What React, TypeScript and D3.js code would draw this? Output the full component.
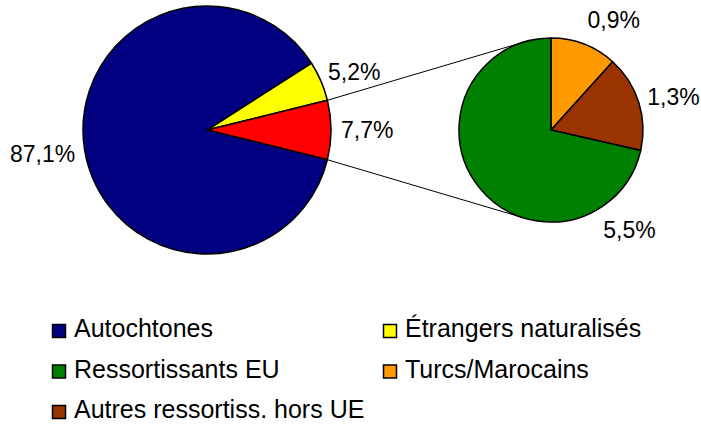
import React from "react";
import * as d3 from "d3";

const mainCategories = ["Étrangers naturalisés", "Autres", "Autochtones"];
const mainValues = [5.2, 7.7, 87.1];
const mainColors = ["#FFFF00", "#FF0000", "#000080"];

const subCategories = ["Turcs/Marocains", "Autres ressortiss. hors UE", "Ressortissants EU"];
const subValues = [0.9, 1.3, 5.5];
const subColors = ["#FF9900", "#993300", "#008000"];

const legendItems = [
  "Autochtones",
  "Étrangers naturalisés",
  "Ressortissants EU",
  "Turcs/Marocains",
  "Autres ressortiss. hors UE",
];
const legendColors = ["#000080", "#FFFF00", "#008000", "#FF9900", "#993300"];

const W = 701;
const H = 426;
const FONT = "'Liberation Sans', Arial, sans-serif";
const LABEL_FS = 23;

const fmt = (v: number) => v.toFixed(1).replace(".", ",") + "%";
const textWidth = (s: string) =>
  d3.sum(s.split(""), (ch) => (ch === "," ? 0.278 : ch === "%" ? 0.889 : 0.556)) * LABEL_FS;

export default function App() {
  const mc = { x: 207, y: 130, r: 124 };
  const sc = { x: 551, y: 130, r: 92 };

  const total = d3.sum(mainValues);
  const otherIdx = 1;
  const before = d3.sum(mainValues.slice(0, otherIdx));
  const startAngle =
    Math.PI / 2 - (mainValues[otherIdx] / total) * Math.PI - (before / total) * 2 * Math.PI;

  const mainPie = d3
    .pie<number>()
    .sort(null)
    .startAngle(startAngle)
    .endAngle(startAngle + 2 * Math.PI)(mainValues);
  const subPie = d3.pie<number>().sort(null)(subValues);

  const mainArc = d3.arc<d3.PieArcDatum<number>>().innerRadius(0).outerRadius(mc.r);
  const subArc = d3.arc<d3.PieArcDatum<number>>().innerRadius(0).outerRadius(sc.r);

  const other = mainPie[otherIdx];
  const edgePt = (a: number) => [mc.x + mc.r * Math.sin(a), mc.y - mc.r * Math.cos(a)];
  const tangent = (p: number[], upper: boolean) => {
    const dx = sc.x - p[0];
    const dy = sc.y - p[1];
    const d = Math.hypot(dx, dy);
    const base = Math.atan2(dy, dx);
    const alpha = Math.asin(sc.r / d);
    const dir = upper ? base - alpha : base + alpha;
    const len = Math.sqrt(d * d - sc.r * sc.r);
    return [p[0] + len * Math.cos(dir), p[1] + len * Math.sin(dir)];
  };
  const p1 = edgePt(other.startAngle);
  const p2 = edgePt(other.endAngle);
  const t1 = tangent(p1, true);
  const t2 = tangent(p2, false);

  const deg = Math.PI / 180;
  const subLabelR = sc.r + 35;
  const subLabelAngles = [29.6 * deg, 74.7 * deg, 141.8 * deg];

  const mainLabelPos = (a: number, s: string) => {
    const ux = Math.sin(a);
    const uy = -Math.cos(a);
    const R = mc.r + 10;
    const w = textWidth(s);
    const h = 26;
    return [mc.x + R * ux + (w / 2) * ux, mc.y + R * uy + (h / 2) * uy];
  };

  return (
    <svg
      width={W}
      height={H}
      style={{ position: "absolute", left: 0, top: 0, background: "#fff" }}
      fontFamily={FONT}
    >
      <rect x={0} y={0} width={W} height={H} fill="#fff" />
      <line x1={p1[0]} y1={p1[1]} x2={t1[0]} y2={t1[1]} stroke="#000" strokeWidth={1} />
      <line x1={p2[0]} y1={p2[1]} x2={t2[0]} y2={t2[1]} stroke="#000" strokeWidth={1} />
      <g transform={`translate(${mc.x},${mc.y})`}>
        {mainPie.map((d, i) => (
          <path key={i} d={mainArc(d) || ""} fill={mainColors[i]} stroke="#000" strokeWidth={1.5} strokeLinejoin="round" />
        ))}
      </g>
      <g transform={`translate(${sc.x},${sc.y})`}>
        {subPie.map((d, i) => (
          <path key={i} d={subArc(d) || ""} fill={subColors[i]} stroke="#000" strokeWidth={1.5} strokeLinejoin="round" />
        ))}
      </g>
      {mainPie.map((d, i) => {
        const a = (d.startAngle + d.endAngle) / 2;
        const s = fmt(mainValues[i]);
        const [x, y] = mainLabelPos(a, s);
        return (
          <text key={i} x={x} y={y} dy="0.36em" textAnchor="middle" fontSize={LABEL_FS} fill="#000">
            {s}
          </text>
        );
      })}
      {subPie.map((d, i) => {
        const a = subLabelAngles[i];
        const x = sc.x + subLabelR * Math.sin(a);
        const y = sc.y - subLabelR * Math.cos(a);
        return (
          <text key={i} x={x} y={y} dy="0.36em" textAnchor="middle" fontSize={LABEL_FS} fill="#000">
            {fmt(subValues[i])}
          </text>
        );
      })}
      {legendItems.map((name, i) => {
        const col = i % 2;
        const row = Math.floor(i / 2);
        const x = col === 0 ? 52 : 383;
        const y = 324 + row * 40.5;
        return (
          <g key={i}>
            <rect x={x + 0.5} y={y + 0.5} width={13} height={13} fill={legendColors[i]} stroke="#000" strokeWidth={1.5} />
            <text x={x + 22} y={y + 13} fontSize={25} fill="#000">
              {name}
            </text>
          </g>
        );
      })}
    </svg>
  );
}
